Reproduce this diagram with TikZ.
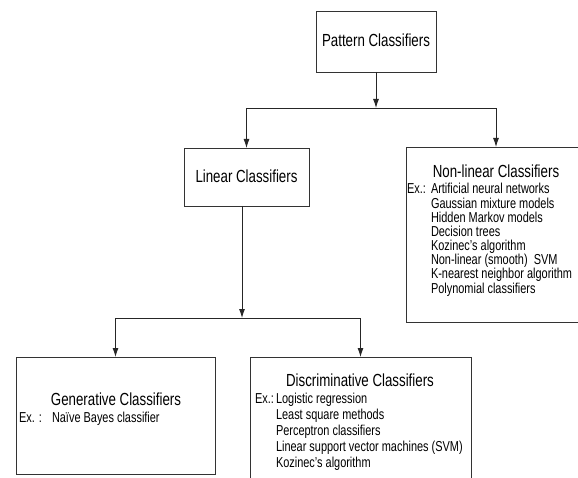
\documentclass[tikz,border=0pt]{standalone}
\usepackage{fontspec}
\setmainfont{Liberation Sans}[FakeStretch=0.76]
\usetikzlibrary{positioning,arrows.meta}

\begin{document}
\begin{tikzpicture}[x=1pt,y=1pt]
    \tikzstyle{every node}=[inner sep=0,outer sep=0]
    \tikzstyle{box}=[draw=black!80,line width=0.9pt,rectangle,fill=none]
    \tikzstyle{title}=[anchor=base,font=\fontsize{17.5}{20}\selectfont]
    \tikzstyle{item}=[anchor=base west,font=\fontsize{14.4}{16}\selectfont]
    \tikzstyle{link}=[draw=black!85,line width=0.9pt,-{Latex[length=9pt,width=6pt]}]
    \clip (0,0) rectangle (578,-478);

    % boxes
    \node[box,minimum width=120,minimum height=61] (pat) at (376,-41.5) {};
    \node[box,minimum width=125,minimum height=58] (lin) at (246.5,-177) {};
    \node[box,minimum width=180,minimum height=175] (nonlin) at (496,-234.5) {};
    \node[box,minimum width=199,minimum height=117] (gen) at (115.5,-415.5) {};
    \node[box,minimum width=221,minimum height=135] (disc) at (360.5,-424.5) {};

    % titles
    \node[title] (patT) at (376,-47) {Pattern Classifiers};
    \node[title] (linT) at (246.5,-183) {Linear Classifiers};
    \node[title] (nonlinT) at (496,-178) {Non-linear Classifiers};
    \node[title] (genT) at (116,-405) {Generative Classifiers};
    \node[title] (discT) at (360,-386) {Discriminative Classifiers};

    % examples
    \node[item] (nlEx) at (407,-194) {Ex.:};
    \foreach \txt [count=\i from 0] in {Artificial neural networks,Gaussian mixture models,
        Hidden Markov models,Decision trees,Kozinec's algorithm,Non-linear (smooth)~ SVM,
        K-nearest neighbor algorithm,Polynomial classifiers}
        \node[item] (nl\i) at (431,{-194-14.15*\i}) {\txt};

    \node[item] (genEx) at (19,-422.5) {Ex. :};
    \node[item] (gen0) at (52,-422.5) {Naïve Bayes classifier};

    \node[item] (discEx) at (255,-403) {Ex.:};
    \foreach \txt [count=\i from 0] in {Logistic regression,Least square methods,
        Perceptron classifiers,Linear support vector machines (SVM),Kozinec's algorithm}
        \node[item] (ds\i) at (276,{-403-16*\i}) {\txt};

    % connectors
    \coordinate (top) at (376,-108);
    \coordinate (mid) at (242,-318);
    \draw[link] (pat) -- (top);
    \draw[link] (top) -| (lin);
    \draw[link] (top) -| (nonlin);
    \draw[link] (lin.south -| mid) -- (mid);
    \draw[link] (mid) -| (gen);
    \draw[link] (mid) -| (disc);
\end{tikzpicture}
\end{document}
